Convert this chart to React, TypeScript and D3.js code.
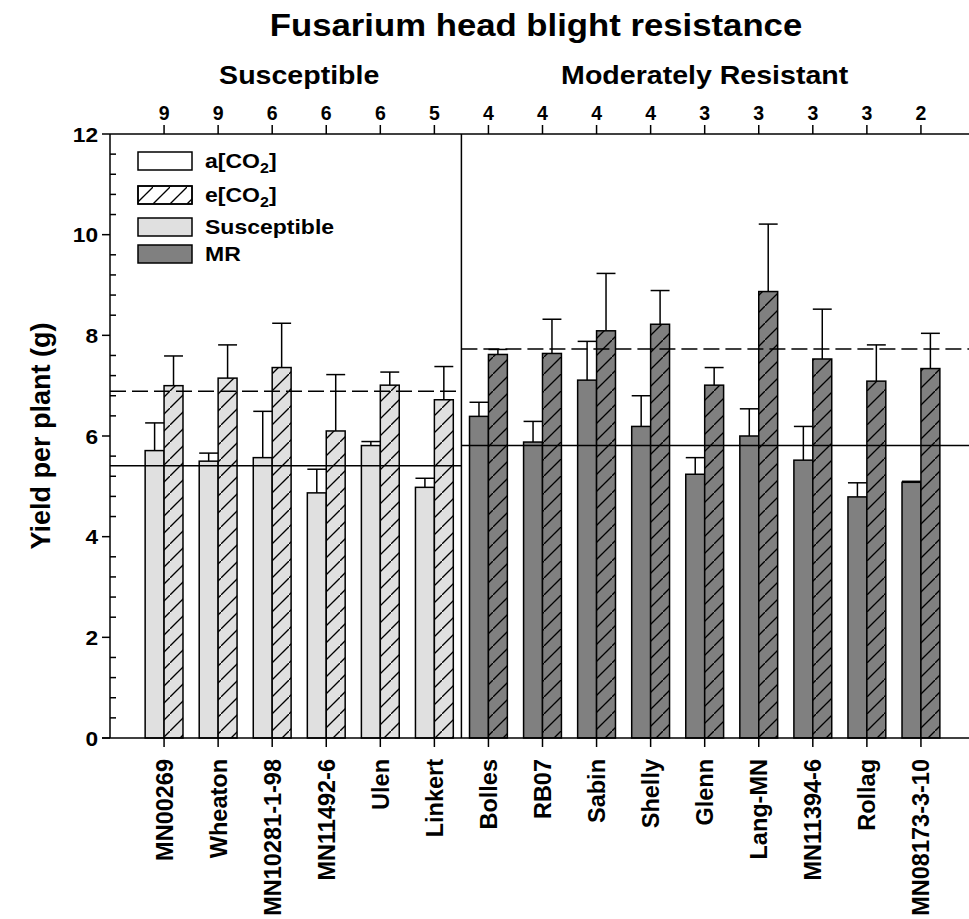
import React from 'react';
import * as d3 from 'd3';

// cultivars, grouped by FHB resistance
const cultivars = ['MN00269', 'Wheaton', 'MN10281-1-98', 'MN11492-6', 'Ulen', 'Linkert',
  'Bolles', 'RB07', 'Sabin', 'Shelly', 'Glenn', 'Lang-MN', 'MN11394-6', 'Rollag', 'MN08173-3-10'];
const groupOf = ['S', 'S', 'S', 'S', 'S', 'S', 'MR', 'MR', 'MR', 'MR', 'MR', 'MR', 'MR', 'MR', 'MR'];
const fhbScore = [9, 9, 6, 6, 6, 5, 4, 4, 4, 4, 3, 3, 3, 3, 2];

// yield per plant (g), ambient and elevated CO2, with SE
const ambient = [5.71, 5.50, 5.57, 4.87, 5.81, 4.98, 6.39, 5.88, 7.11, 6.19, 5.24, 6.00, 5.52, 4.79, 5.08];
const ambientSE = [0.55, 0.16, 0.92, 0.47, 0.08, 0.18, 0.28, 0.41, 0.77, 0.61, 0.33, 0.54, 0.67, 0.28, 0.02];
const elevated = [7.00, 7.15, 7.36, 6.10, 7.01, 6.72, 7.62, 7.64, 8.09, 8.22, 7.01, 8.87, 7.53, 7.09, 7.34];
const elevatedSE = [0.59, 0.66, 0.88, 1.12, 0.26, 0.66, 0.10, 0.68, 1.14, 0.67, 0.35, 1.34, 0.99, 0.72, 0.70];

// group means (solid = a[CO2], dashed = e[CO2])
const groupMeanA = { S: 5.41, MR: 5.81 };
const groupMeanE = { S: 6.89, MR: 7.73 };

const yTicks = [0, 2, 4, 6, 8, 10, 12];

const W = 969;
const H = 919;
const FONT = '"Liberation Sans", Arial, Helvetica, sans-serif';
const FILL = { S: '#e0e0e0', MR: '#808080' };
const SX = 1.12; // reference type is a little wider than Arial

export default function App() {
  const left = 110;
  const top = 134;
  const bottom = 738;

  const x = d3.scalePoint<string>().domain(cultivars).range([left, 975]).padding(1);
  const step = x.step();
  const bw = step * 0.35;
  const y = d3.scaleLinear().domain([0, 12]).range([bottom, top]);

  const minor = d3.range(0, 12.01, 0.4).filter((v) => Math.abs(v / 2 - Math.round(v / 2)) > 0.01);
  const divider = (x(cultivars[5])! + x(cultivars[6])!) / 2;

  const groupSpan = (g: string) => {
    const xs = cultivars.filter((_, i) => groupOf[i] === g).map((c) => x(c)!);
    return (d3.min(xs)! + d3.max(xs)!) / 2;
  };

  const legend = [
    { label: 'a[CO', sub: true, fill: '#ffffff', hatch: false, y: 152, h: 18 },
    { label: 'e[CO', sub: true, fill: '#ffffff', hatch: true, y: 186, h: 18 },
    { label: 'Susceptible', sub: false, fill: FILL.S, hatch: false, y: 218, h: 18 },
    { label: 'MR', sub: false, fill: FILL.MR, hatch: false, y: 245, h: 18 },
  ];

  const errBar = (cx: number, v: number, se: number, key: string) => (
    <g key={key} stroke="#000" strokeWidth={1.5}>
      <line x1={cx} x2={cx} y1={y(v)} y2={y(v + se)} />
      <line x1={cx - bw / 2} x2={cx + bw / 2} y1={y(v + se)} y2={y(v + se)} />
    </g>
  );

  return (
    <svg width={W} height={H} style={{ position: 'absolute', left: 0, top: 0, background: '#fff' }}
      fontFamily={FONT} fontWeight="bold">
      <defs>
        <pattern id="hatch" patternUnits="userSpaceOnUse" width={17} height={17}>
          <line x1={-2} y1={19} x2={19} y2={-2} stroke="#000" strokeWidth={1.3} />
        </pattern>
      </defs>

      <text transform={`translate(536,36) scale(${SX},1)`} fontSize={31} textAnchor="middle">
        Fusarium head blight resistance
      </text>
      <text transform={`translate(${groupSpan('S')},84) scale(${SX},1)`} fontSize={25.5} textAnchor="middle">
        Susceptible
      </text>
      <text transform={`translate(${groupSpan('MR')},84) scale(${SX},1)`} fontSize={25.5} textAnchor="middle">
        Moderately Resistant
      </text>

      {/* bars */}
      {cultivars.map((c, i) => {
        const cx = x(c)!;
        const g = groupOf[i] as 'S' | 'MR';
        return (
          <g key={c}>
            {errBar(cx - bw / 2, ambient[i], ambientSE[i], 'ea')}
            {errBar(cx + bw / 2, elevated[i], elevatedSE[i], 'ee')}
            <rect x={cx - bw} y={y(ambient[i])} width={bw} height={bottom - y(ambient[i])}
              fill={FILL[g]} stroke="#000" strokeWidth={1.5} />
            <rect x={cx} y={y(elevated[i])} width={bw} height={bottom - y(elevated[i])}
              fill={FILL[g]} stroke="none" />
            <rect x={cx} y={y(elevated[i])} width={bw} height={bottom - y(elevated[i])}
              fill="url(#hatch)" stroke="#000" strokeWidth={1.5} />
          </g>
        );
      })}

      {/* group mean lines */}
      {(['S', 'MR'] as const).map((g) => {
        const x1 = g === 'S' ? left : divider;
        const x2 = g === 'S' ? divider : W;
        return (
          <g key={g} stroke="#000" strokeWidth={1.5}>
            <line x1={x1} x2={x2} y1={y(groupMeanA[g])} y2={y(groupMeanA[g])} />
            <line x1={x1} x2={x2} y1={y(groupMeanE[g])} y2={y(groupMeanE[g])} strokeDasharray="16,6" />
          </g>
        );
      })}

      {/* frame */}
      <g stroke="#000" strokeWidth={1.5}>
        <line x1={left} x2={left} y1={top} y2={bottom} />
        <line x1={left - 8} x2={W} y1={bottom} y2={bottom} />
        <line x1={left} x2={W} y1={top} y2={top} />
        <line x1={divider} x2={divider} y1={top} y2={bottom} />
        {yTicks.map((t) => <line key={t} x1={left - 8} x2={left} y1={y(t)} y2={y(t)} />)}
        {minor.map((t) => <line key={t} x1={left} x2={left + 6} y1={y(t)} y2={y(t)} />)}
        {cultivars.map((c) => (
          <g key={c}>
            <line x1={x(c)} x2={x(c)} y1={bottom} y2={bottom + 9} />
            <line x1={x(c)} x2={x(c)} y1={top} y2={top - 9} />
          </g>
        ))}
      </g>

      {/* y axis labels */}
      {yTicks.map((t) => (
        <text key={t} transform={`translate(${left - 12},${y(t)}) scale(1.08,1)`} dy="0.36em"
          fontSize={21} textAnchor="end">{t}</text>
      ))}
      <text transform={`translate(50,${(top + bottom) / 2}) rotate(-90)`} fontSize={27} textAnchor="middle">
        Yield per plant (g)
      </text>

      {/* category labels */}
      {cultivars.map((c) => (
        <text key={c} transform={`translate(${x(c)},${bottom + 21}) rotate(-90)`} dy="0.36em"
          fontSize={23.5} textAnchor="end">{c}</text>
      ))}
      {cultivars.map((c, i) => (
        <text key={c} x={x(c)} y={120} fontSize={19.5} textAnchor="middle">{fhbScore[i]}</text>
      ))}

      {/* legend */}
      {legend.map((d) => (
        <g key={d.label}>
          <rect x={138} y={d.y} width={54} height={d.h} fill={d.fill} stroke="#000" strokeWidth={1.5} />
          {d.hatch && <rect x={138} y={d.y} width={54} height={d.h} fill="url(#hatch)" stroke="#000" strokeWidth={1.5} />}
          <text transform={`translate(205,${d.y + d.h / 2 + 6.5}) scale(1.15,1)`} fontSize={20}>
            {d.label}
            {d.sub && <tspan fontSize={14} dy={5}>2</tspan>}
            {d.sub && <tspan dy={-5}>]</tspan>}
          </text>
        </g>
      ))}
    </svg>
  );
}
